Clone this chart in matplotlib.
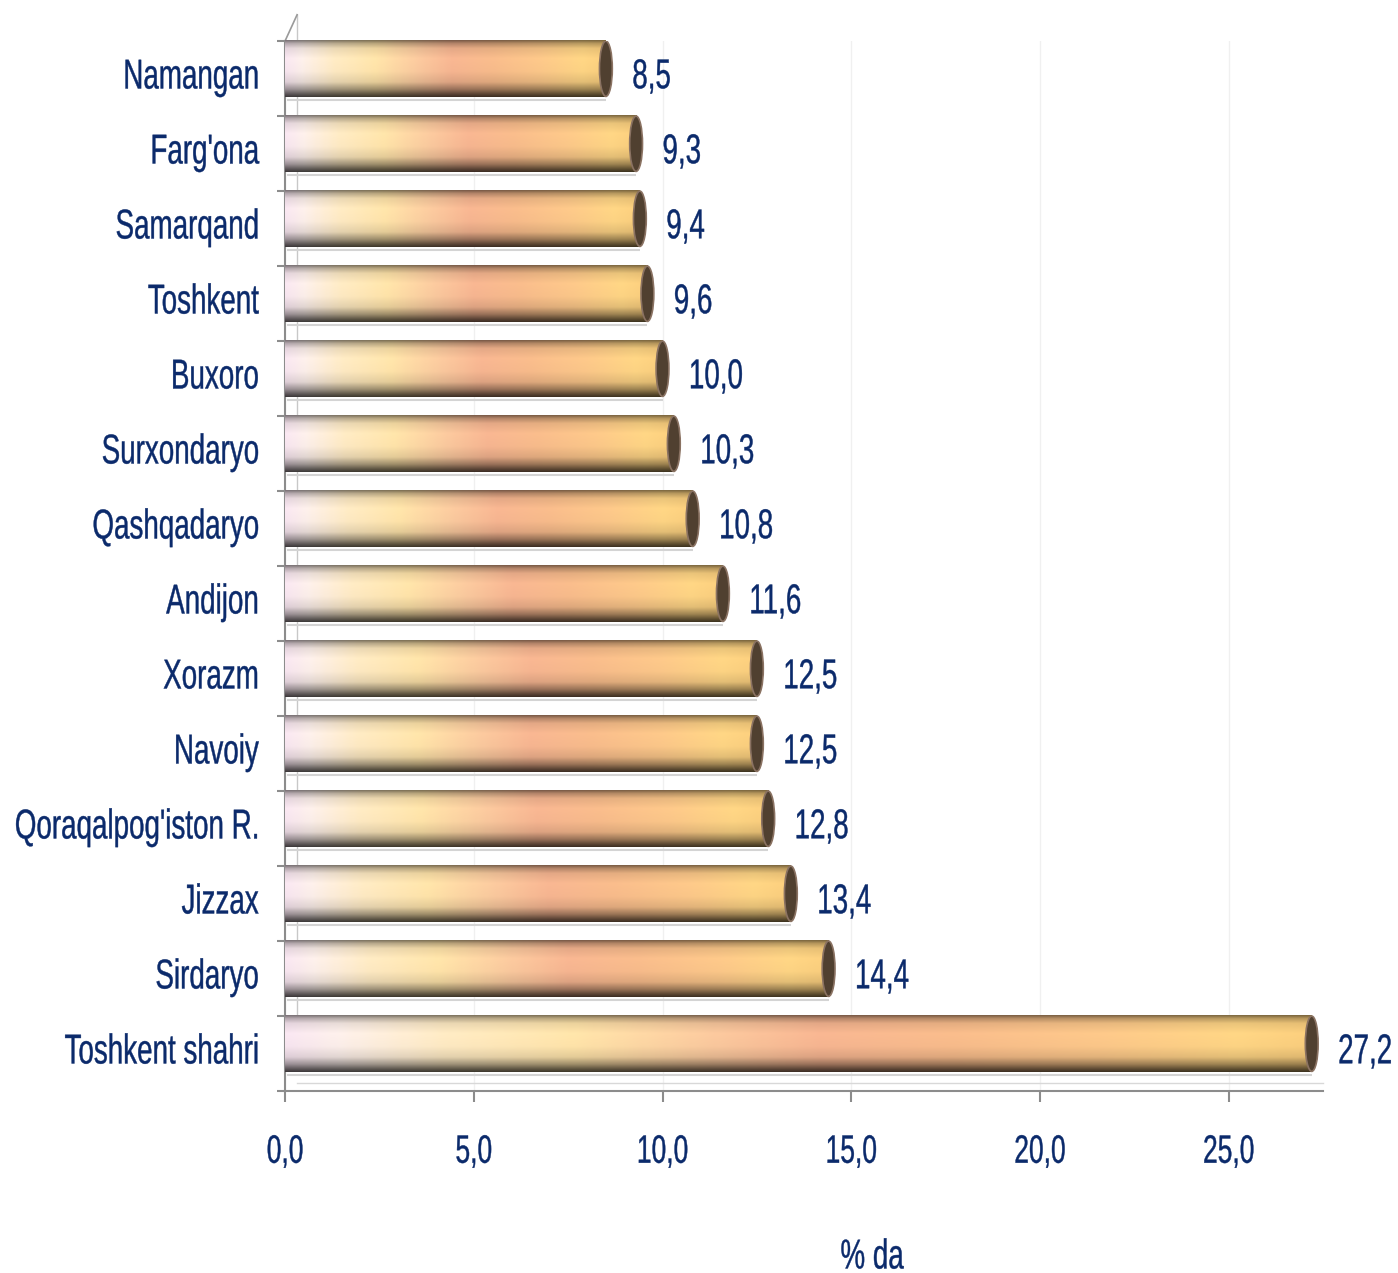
import numpy as np
import matplotlib
matplotlib.use("Agg")
import matplotlib.pyplot as plt
from matplotlib.colors import LinearSegmentedColormap
from matplotlib.patches import Ellipse
import matplotlib.patheffects as pe
from matplotlib.transforms import Affine2D

# ---------------- data ----------------
regions = ["Namangan", "Farg'ona", "Samarqand", "Toshkent", "Buxoro",
           "Surxondaryo", "Qashqadaryo", "Andijon", "Xorazm", "Navoiy",
           "Qoraqalpog'iston R.", "Jizzax", "Sirdaryo", "Toshkent shahri"]
values = [8.5, 9.3, 9.4, 9.6, 10.0, 10.3, 10.8, 11.6, 12.5, 12.5, 12.8,
          13.4, 14.4, 27.2]
value_labels = ["8,5", "9,3", "9,4", "9,6", "10,0", "10,3", "10,8", "11,6",
                "12,5", "12,5", "12,8", "13,4", "14,4", "27,2"]
xticks = [0, 5, 10, 15, 20, 25]
xtick_labels = ["0,0", "5,0", "10,0", "15,0", "20,0", "25,0"]
xlabel = "% da"

# ---------------- style ----------------
TXT = "#0b2a6b"
FONT = ["Liberation Sans Narrow", "Liberation Sans", "DejaVu Sans"]
FS = 20
FS_X = 19
plt.rcParams["font.family"] = FONT


class Stretch(pe.AbstractPathEffect):
    """Draw the text taller (vertical stretch about baseline), slightly heavier."""
    def __init__(self, sy=1.3, lw=0.3):
        super().__init__()
        self.sy = sy
        self.lw = lw

    def draw_path(self, renderer, gc, tpath, affine, rgbFace=None):
        tr = Affine2D().scale(1, self.sy) + affine
        gc0 = renderer.new_gc()
        gc0.copy_properties(gc)
        if rgbFace is not None:
            gc0.set_foreground(rgbFace)
        gc0.set_linewidth(self.lw)
        renderer.draw_path(gc0, tpath, tr, rgbFace)
        gc0.restore()


STRETCH = [Stretch(1.5, 0.3)]

fig = plt.figure(figsize=(13.98, 12.73), dpi=100)
ax = fig.add_axes([0.2039, 0.143, 0.7425, 0.8248])

n = len(regions)
ypos = np.arange(n)
bar_h = 0.76
shift = -0.13          # 3D depth: bars sit toward the back of each slot
cap_w = 0.34

# horizontal colour ramp (relative to bar length)
cmap = LinearSegmentedColormap.from_list("tube", [
    (0.00, "#f6e4ee"), (0.05, "#faede8"), (0.15, "#fce8c2"),
    (0.28, "#fde2a8"), (0.42, "#f8c69c"), (0.52, "#f5b490"),
    (0.65, "#f6ba8a"), (0.80, "#fac688"), (0.93, "#fcd383"),
    (1.00, "#f8cc7c")])
# vertical cylinder shading profile (top -> bottom)
tprof = [0.0, 0.05, 0.14, 0.32, 0.55, 0.74, 0.87, 0.95, 1.0]
mprof = [0.50, 0.72, 0.93, 1.02, 1.00, 0.90, 0.62, 0.38, 0.25]
ny, nx = 80, 300
shade = np.interp(np.linspace(0, 1, ny), tprof, mprof)
hcol = cmap(np.linspace(0, 1, nx))[:, :3]
img = np.clip(hcol[None, :, :] * shade[:, None, None], 0, 1)

bars = ax.barh(ypos + shift, values, height=bar_h, color="none",
               edgecolor="none", zorder=3)
for rect, v, y in zip(bars, values, ypos + shift):
    im = ax.imshow(img, extent=(0, v, y + bar_h / 2, y - bar_h / 2),
                   aspect="auto", interpolation="bilinear", zorder=3)
    im.set_clip_path(rect)
    ax.add_patch(Ellipse((v, y), cap_w, bar_h * 0.97, facecolor="#504030",
                         edgecolor="#8a7262", lw=1.2, zorder=4))
    # faint floor shadow under each tube
    ax.plot([0.05, v], [y + bar_h / 2 + 0.04] * 2, color="#d4d4d4", lw=1.5,
            zorder=2, solid_capstyle="butt")

for v, y, lab in zip(values, ypos, value_labels):
    ax.annotate(lab, xy=(v, y), xytext=(19, -2), textcoords="offset points",
                ha="left", va="center", fontsize=FS, color=TXT,
                path_effects=STRETCH, annotation_clip=False)

ax.set_xlim(0, 27.5)
ax.set_ylim(n - 0.5, -0.5)

ax.set_yticks(ypos)
ax.set_yticklabels(regions)
ax.set_yticks(np.arange(n + 1) - 0.5, minor=True)
ax.tick_params(axis="y", which="major", length=0, pad=19, labelsize=FS,
               labelcolor=TXT)
ax.tick_params(axis="y", which="minor", length=6, width=1.5, color="#8c8c8c")
ax.set_xticks(xticks)
ax.set_xticklabels(xtick_labels)
ax.tick_params(axis="x", which="major", length=8, width=1.5, color="#8c8c8c",
               pad=30, labelsize=FS_X, labelcolor=TXT)
for t in ax.get_yticklabels() + ax.get_xticklabels():
    t.set_path_effects(STRETCH)

for s in ["top", "right"]:
    ax.spines[s].set_visible(False)
for s in ["left", "bottom"]:
    ax.spines[s].set_color("#8c8c8c")
    ax.spines[s].set_linewidth(1.5)

ax.grid(axis="x", color="#f0f0f0", lw=1.0, zorder=0)
ax.set_axisbelow(True)

# 3D back-wall hints
ax.plot([0, 0.0116], [1, 1.025], transform=ax.transAxes, color="#9a9a9a",
        lw=1.2, clip_on=False)
ax.plot([0.0116, 0.0116], [1.025, 0.03], transform=ax.transAxes,
        color="#c8c8c8", lw=1.0, clip_on=False, zorder=1)
ax.plot([0.0116, 1.0], [0.008, 0.008], transform=ax.transAxes,
        color="#d8d8d8", lw=1.0, clip_on=False, zorder=1)

ax.set_xlabel(xlabel, fontsize=FS, color=TXT)
ax.xaxis.label.set_path_effects(STRETCH)
ax.xaxis.set_label_coords(0.5655, -0.15)

fig.savefig("out.png", dpi=100, facecolor="white")
